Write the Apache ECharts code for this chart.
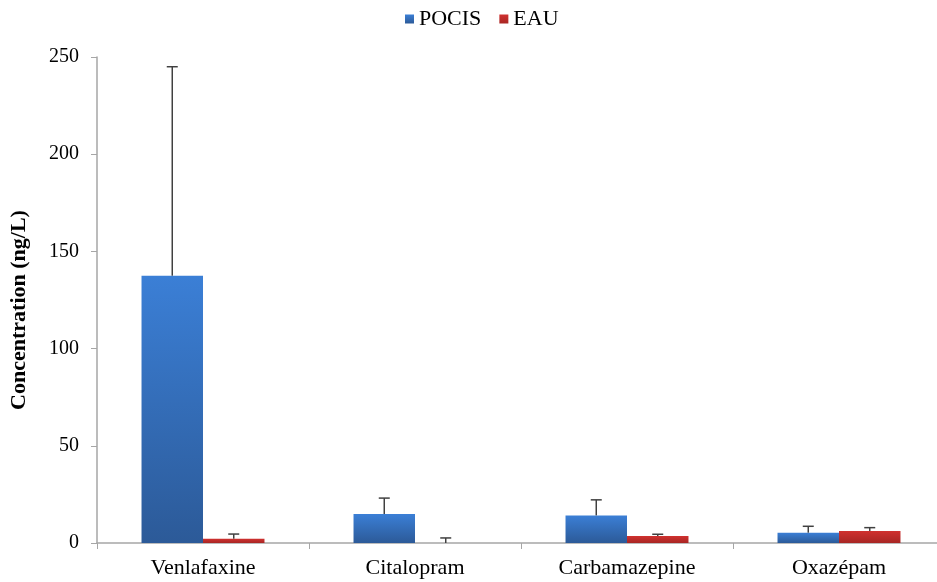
<!DOCTYPE html>
<html><head><meta charset="utf-8">
<script src="https://cdn.jsdelivr.net/npm/echarts@6/dist/echarts.min.js"></script>
<style>html,body{margin:0;padding:0;background:#fff}#c{width:937px;height:582px}</style>
</head><body><div id="c"></div>
<script>
var categories = ['Venlafaxine', 'Citalopram', 'Carbamazepine', 'Oxazépam'];
var pocis = [137.5, 14.9, 14.2, 5.3];
var pocisErr = [107.5, 8.2, 8.0, 3.3];
var eau = [2.2, 0, 3.6, 6.2];
var eauErr = [2.4, 2.6, 0.9, 1.7];
var yTicks = [0, 50, 100, 150, 200, 250];

var chart = echarts.init(document.getElementById('c'));
var font = 'Liberation Serif';
var catGap = 0.42;
function errSeries(name, vals, errs, side) {
  var data = vals.map(function (v, i) { return [i, v, v + errs[i]]; });
  return {
    type: 'custom', name: name + '_err', silent: true, z: 10,
    renderItem: function (params, api) {
      var i = api.value(0);
      var cw = api.size([1, 0])[0];
      var bw = cw * (1 - catGap) / 2;
      var base = api.coord([i, api.value(1)]);
      var top = api.coord([i, api.value(2)]);
      var x = base[0] + side * bw / 2;
      var style = { stroke: '#404040', lineWidth: 1.5 };
      return { type: 'group', children: [
        { type: 'line', shape: { x1: x, y1: base[1], x2: x, y2: top[1] }, style: style },
        { type: 'line', shape: { x1: x - 5.5, y1: top[1], x2: x + 5.5, y2: top[1] }, style: style }
      ]};
    },
    encode: { x: 0, y: [1, 2] },
    data: data
  };
}
function grad(top, bottom) {
  return new echarts.graphic.LinearGradient(0, 0, 0, 1, [{ offset: 0, color: top }, { offset: 1, color: bottom }]);
}
chart.setOption({
  animation: false,
  backgroundColor: '#ffffff',
  legend: {
    top: 3, left: 400, itemWidth: 9, itemHeight: 9, itemGap: 18,
    icon: 'rect',
    data: ['POCIS', 'EAU'],
    textStyle: { fontFamily: font, fontSize: 22, color: '#000' }
  },
  grid: { left: 97, top: 57, width: 848, height: 486, containLabel: false, outerBoundsMode: 'none' },
  xAxis: {
    type: 'category', data: categories,
    axisLine: { lineStyle: { color: '#a6a6a6', width: 1.5 } },
    axisTick: { show: true, length: 6, lineStyle: { color: '#a6a6a6' } },
    axisLabel: { fontFamily: font, fontSize: 22, color: '#000', margin: 14 }
  },
  yAxis: {
    type: 'value', min: 0, max: 250, interval: 50,
    name: 'Concentration (ng/L)', nameLocation: 'middle', nameGap: 67,
    nameTextStyle: { fontFamily: font, fontSize: 22, fontWeight: 'bold', color: '#000', padding: [0, 20, 0, 0] },
    axisLine: { show: true, lineStyle: { color: '#a6a6a6', width: 1.5 } },
    axisTick: { show: true, length: 6, lineStyle: { color: '#a6a6a6' } },
    splitLine: { show: false },
    axisLabel: { fontFamily: font, fontSize: 20, color: '#000', margin: 18,
      formatter: function (v) { return yTicks.indexOf(v) >= 0 ? String(v) : ''; } }
  },
  series: [
    { name: 'POCIS', type: 'bar', data: pocis, barGap: '0%', barCategoryGap: '42%',
      itemStyle: { color: grad('#3b7fd6', '#2c5a98') }, z: 3 },
    { name: 'EAU', type: 'bar', data: eau,
      itemStyle: { color: grad('#d0312f', '#a82624') }, z: 3 },
    errSeries('POCIS', pocis, pocisErr, -1),
    errSeries('EAU', eau, eauErr, 1)
  ]
});
</script></body></html>
